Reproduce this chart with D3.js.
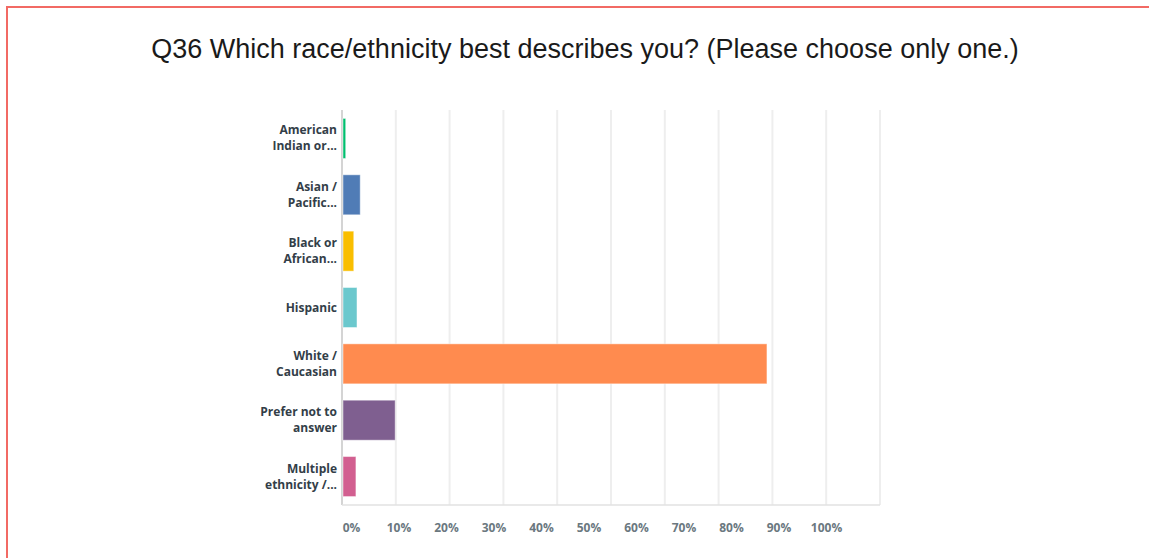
<!DOCTYPE html>
<html>
<head>
<meta charset="utf-8">
<script src="https://cdn.jsdelivr.net/npm/d3@7"></script>
<style>
  body { margin: 0; background: #fff; }
  #frame {
    position: absolute; left: 6px; top: 6px;
    width: 1160px; height: 580px;
    border: 2px solid #f26a64; box-sizing: border-box;
  }
</style>
</head>
<body>
<div id="frame"></div>
<div id="chart" style="position:absolute;left:0;top:0;"></div>
<script>
const title = "Q36 Which race/ethnicity best describes you? (Please choose only one.)";

// answer choices, as the (truncated) label lines shown in the chart
const categories = [
    ["American", "Indian or..."],
    ["Asian /", "Pacific..."],
    ["Black or", "African..."],
    ["Hispanic"],
    ["White /", "Caucasian"],
    ["Prefer not to", "answer"],
    ["Multiple", "ethnicity /..."]
];
// percent of respondents
const values = [0.5, 3.2, 2.0, 2.6, 78.8, 9.7, 2.4];
const colors = ["#00bf6f", "#507cb6", "#f9be00", "#6bc8cd", "#ff8b4f", "#7f5f90", "#d25f90"];
const tickValues = [0, 10, 20, 30, 40, 50, 60, 70, 80, 90, 100];
const tickLabels = tickValues.map(d => d + "%");

const W = 1149, H = 558;
const margin = {top: 110, right: 269, bottom: 53, left: 342},
    width = W - margin.left - margin.right,
    height = H - margin.top - margin.bottom;

const root = d3.select("#chart")
    .append("svg")
        .attr("width", W)
        .attr("height", H);

root.append("text")
    .attr("x", 585)
    .attr("y", 58)
    .attr("text-anchor", "middle")
    .style("font-family", "'Liberation Sans', Arial, sans-serif")
    .style("font-size", "27px")
    .style("fill", "#1a1a1a")
    .text(title);

const svg = root.append("g")
    .attr("transform", `translate(${margin.left},${margin.top})`);

const x = d3.scaleLinear().domain([0, 100]).range([0, width]);
const y = d3.scaleBand()
    .domain(d3.range(categories.length))
    .range([0, height])
    .paddingInner(0.29)
    .paddingOuter(0.15);

// vertical grid lines
svg.append("g")
    .selectAll("line")
    .data(tickValues)
    .join("line")
        .attr("x1", d => x(d))
        .attr("x2", d => x(d))
        .attr("y1", 0)
        .attr("y2", height)
        .style("stroke", d => d === 0 ? "#d4d4d4" : "#eeeeee")
        .style("stroke-width", 2);

// bottom baseline
svg.append("line")
    .attr("x1", 0).attr("x2", width)
    .attr("y1", height).attr("y2", height)
    .style("stroke", "#e2e2e2")
    .style("stroke-width", 1.5);

// bars
svg.append("g")
    .selectAll("rect")
    .data(values)
    .join("rect")
        .attr("x", x(0) + 1)
        .attr("y", (d, i) => y(i))
        .attr("width", d => x(d) - x(0))
        .attr("height", y.bandwidth())
        .style("fill", (d, i) => colors[i])
        .style("stroke", "rgba(255,255,255,0.45)")
        .style("stroke-width", 1);

// category labels
const lab = svg.append("g")
    .selectAll("text")
    .data(categories)
    .join("text")
        .attr("text-anchor", "end")
        .attr("x", -5)
        .attr("y", (d, i) => y(i) + y.bandwidth() / 2)
        .style("font-family", "'Open Sans', sans-serif")
        .style("font-weight", "bold")
        .style("font-size", "12px")
        .style("fill", "#333e48");

lab.selectAll("tspan")
    .data(d => d.map((t, k) => ({t, k, n: d.length})))
    .join("tspan")
        .attr("x", -5)
        .attr("dy", d => d.k === 0 ? (4 - (d.n - 1) * 8) + "px" : "16px")
        .text(d => d.t);

// tick labels row (laid out evenly like the original, not on grid lines)
const labelScale = d3.scalePoint()
    .domain(tickLabels)
    .range([9, 484]);

svg.append("g")
    .attr("transform", `translate(0, ${height + 15})`)
    .call(d3.axisBottom(labelScale).tickSize(0))
    .call(g => g.select(".domain").remove())
    .selectAll("text")
        .style("font-family", "'Open Sans', sans-serif")
        .style("font-weight", "bold")
        .style("font-size", "12px")
        .style("fill", "#6b787f");
</script>
</body>
</html>
